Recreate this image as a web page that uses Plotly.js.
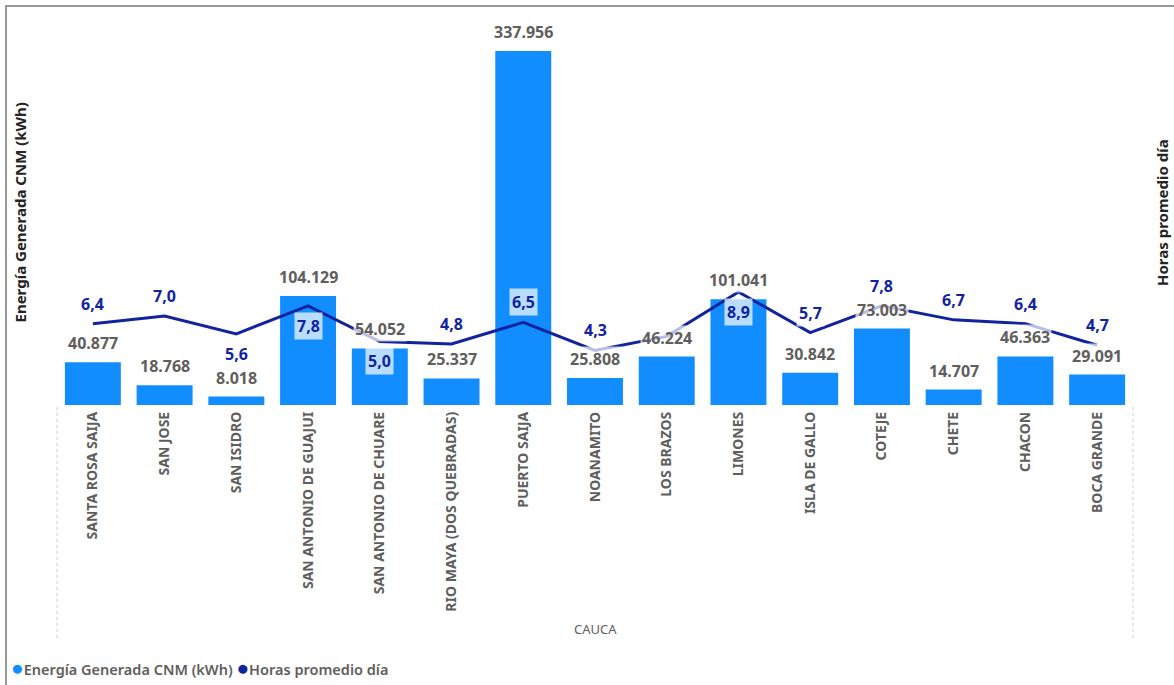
<!DOCTYPE html>
<html>
<head>
<meta charset="utf-8">
<script src="https://cdn.plot.ly/plotly-3.0.1.min.js"></script>
<style>
html,body{margin:0;padding:0;background:#fff;}
#chart{width:1174px;height:685px;}
</style>
</head>
<body>
<div id="chart"></div>
<script>
const categories = ["SANTA ROSA SAIJA","SAN JOSE","SAN ISIDRO","SAN ANTONIO DE GUAJUI","SAN ANTONIO DE CHUARE","RIO MAYA (DOS QUEBRADAS)","PUERTO SAIJA","NOANAMITO","LOS BRAZOS","LIMONES","ISLA DE GALLO","COTEJE","CHETE","CHACON","BOCA GRANDE"];
const energia = [40877,18768,8018,104129,54052,25337,337956,25808,46224,101041,30842,73003,14707,46363,29091];
const horas = [6.4,7.0,5.6,7.8,5.0,4.8,6.5,4.3,5.4,8.9,5.7,7.8,6.7,6.4,4.7];
const energiaLabels = ["40.877","18.768","8.018","104.129","54.052","25.337","337.956","25.808","46.224","101.041","30.842","73.003","14.707","46.363","29.091"];
const horasLabels = ["6,4","7,0","5,6","7,8","5,0","4,8","6,5","4,3","","8,9","5,7","7,8","6,7","6,4","4,7"];
const groupLabel = "CAUCA";
const seriesNames = ["Energía Generada CNM (kWh)","Horas promedio día"];
// label placement for the line labels (style only): 1 = above, -1 = below
const horasLabelSide = [1,1,-1,-1,-1,1,1,1,1,-1,1,1,1,1,1];

const BAR = '#118DFF', LINE = '#12239E', GRAY = '#605E5C';
const FONT = 'Noto Sans, Liberation Sans, sans-serif';

const traces = [
  {type:'bar', x:categories, y:energia, name:seriesNames[0], marker:{color:BAR}, yaxis:'y', hoverinfo:'skip'},
  {type:'scatter', mode:'lines', x:categories, y:horas, name:seriesNames[1], line:{color:LINE,width:3}, yaxis:'y2', hoverinfo:'skip'}
];

const annotations = [];
categories.forEach((c,i)=>{
  annotations.push({x:c, y:energia[i], xref:'x', yref:'y', text:energiaLabels[i], showarrow:false,
    xanchor:'center', yanchor:'middle', yshift:19, font:{family:FONT, size:16, color:GRAY, weight:700},
    bgcolor:'rgba(255,255,255,0.7)', borderpad:1});
});
categories.forEach((c,i)=>{
  if(!horasLabels[i]) return;
  annotations.push({x:c, y:horas[i], xref:'x', yref:'y2', text:horasLabels[i], showarrow:false,
    xanchor:'center', yanchor:'middle', yshift:20*horasLabelSide[i], font:{family:FONT, size:16, color:LINE, weight:700},
    bgcolor:'rgba(255,255,255,0.7)', borderpad:2});
});
annotations.push({xref:'paper', yref:'paper', x:-0.0344, y:0.5, xanchor:'center', yanchor:'middle', text:seriesNames[0], textangle:-90, showarrow:false,
  font:{family:FONT, size:15, color:'#252423', weight:700}});
annotations.push({xref:'paper', yref:'paper', x:1.0265, y:0.5, xanchor:'center', yanchor:'middle', text:seriesNames[1], textangle:-90, showarrow:false,
  font:{family:FONT, size:15, color:'#252423', weight:700}});
annotations.push({xref:'paper', yref:'paper', x:0.5, y:-0.582, xanchor:'center', yanchor:'middle', text:groupLabel, showarrow:false,
  font:{family:FONT, size:13, color:GRAY}});
annotations.push({xref:'paper', yref:'paper', x:-0.0445, y:-0.6805, xanchor:'left', yanchor:'middle', showarrow:false,
  text:'<span style="color:'+BAR+';font-size:21px">●</span>'+seriesNames[0]+' <span style="color:'+LINE+';font-size:21px">●</span>'+seriesNames[1],
  font:{family:FONT, size:14.5, color:GRAY, weight:600}});

const shapes = [
  {type:'rect', xref:'paper', yref:'paper', x0:-0.0474, x1:1.2, y0:-0.8, y1:1.0364, line:{color:'#777', width:1.5}},
  {type:'line', xref:'paper', yref:'paper', x0:0, x1:0, y0:-0.005, y1:-0.61, line:{color:'#ccc', width:1, dash:'dot'}},
  {type:'line', xref:'paper', yref:'paper', x0:1, x1:1, y0:-0.005, y1:-0.61, line:{color:'#ccc', width:1, dash:'dot'}}
];

const layout = {
  width:1174, height:685,
  margin:{l:57, r:41, t:20, b:280},
  paper_bgcolor:'#fff', plot_bgcolor:'#fff',
  showlegend:false,
  bargap:0.22,
  font:{family:FONT},
  xaxis:{type:'category', range:[-0.5,14.5], tickangle:-90, ticks:'', ticklabelstandoff:3, showline:false, showgrid:false, zeroline:false,
    tickfont:{family:FONT, size:14, color:GRAY, weight:700}, fixedrange:true},
  yaxis:{range:[0,367551], showticklabels:false, showgrid:false, zeroline:false, showline:false, fixedrange:true},
  yaxis2:{range:[0,30.3], overlaying:'y', side:'right', showticklabels:false, showgrid:false, zeroline:false, showline:false, fixedrange:true},
  annotations:annotations,
  shapes:shapes
};

Plotly.newPlot('chart', traces, layout, {displayModeBar:false, staticPlot:true});
</script>
</body>
</html>
